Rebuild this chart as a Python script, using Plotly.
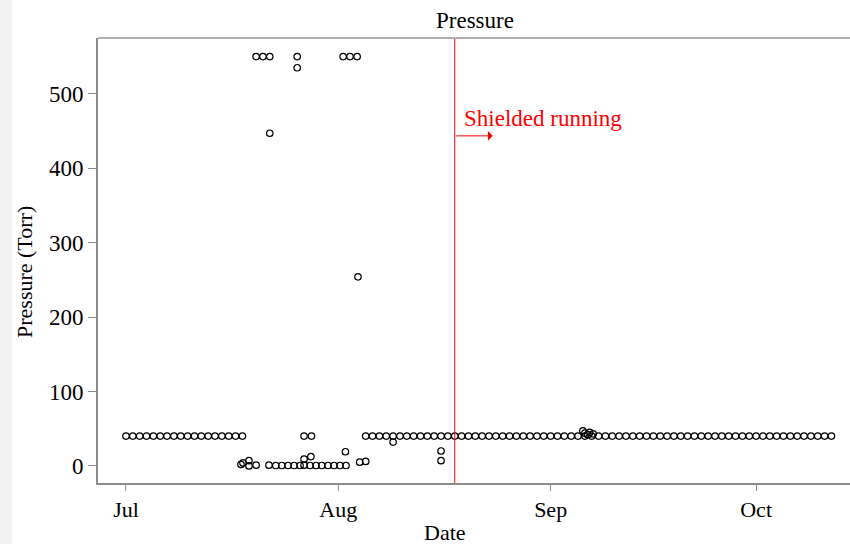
import plotly.graph_objects as go
import pandas as pd

# --- data ---
base_dates = (list(pd.date_range("2009-07-01", "2009-07-18", freq="D")) +
              list(pd.date_range("2009-08-05", "2009-10-12", freq="D")))
base_vals = [40] * len(base_dates)

extra_dates = [
    "2009-07-17 19:00", "2009-07-18 02:00", "2009-07-18 23:00", "2009-07-18 23:00", "2009-07-20 00:00",
    "2009-07-20 00:00", "2009-07-21 00:00", "2009-07-22 00:00", "2009-07-22 00:00",
    "2009-07-26 00:00", "2009-07-26 00:00",
    "2009-08-01 17:00", "2009-08-02 17:00", "2009-08-03 18:00", "2009-08-03 21:00",
    "2009-07-21 21:00", "2009-07-22 21:00", "2009-07-23 18:00", "2009-07-24 16:00",
    "2009-07-25 13:00", "2009-07-26 10:00", "2009-07-27 00:00", "2009-07-27 00:00",
    "2009-07-27 21:00", "2009-07-28 00:00", "2009-07-28 18:00", "2009-07-29 14:00",
    "2009-07-30 12:00", "2009-07-31 09:00", "2009-08-01 06:00", "2009-08-02 03:00",
    "2009-08-02 01:00",
    "2009-07-27 00:00", "2009-07-28 02:00",
    "2009-08-04 03:00", "2009-08-05 00:00",
    "2009-08-09 00:00", "2009-08-16 00:00", "2009-08-16 00:00",
    "2009-09-05 17:00", "2009-09-06 00:00", "2009-09-06 10:00", "2009-09-06 17:00", "2009-09-07 05:00",
]
extra_vals = [
    2, 4, 7, 0, 1,
    550, 550, 550, 447,
    550, 535,
    550, 550, 550, 254,
    1, 0.5, 0.5, 0.5,
    0.5, 0.5, 1, 9,
    0.5, 12.5, 0.5, 0.5,
    0.5, 0.5, 0.5, 0.5,
    19,
    40, 40,
    5, 6,
    32, 20, 7,
    47, 44, 42, 45, 43,
]

shield_date = "2009-08-18"
y_ticks = [0, 100, 200, 300, 400, 500]
x_ticks = ["2009-07-01", "2009-08-01", "2009-09-01", "2009-10-01"]
x_tick_labels = ["Jul", "Aug", "Sep", "Oct"]

dates = [pd.Timestamp(d) for d in base_dates] + [pd.Timestamp(d) for d in extra_dates]
vals = base_vals + extra_vals

FONT = "Liberation Serif, Times New Roman, serif"
AX = "#8c8c8c"

fig = go.Figure()
fig.add_trace(go.Scatter(
    x=dates, y=vals, mode="markers",
    marker=dict(symbol="circle-open", size=6.5, color="black", line=dict(width=1.2)),
    showlegend=False, hoverinfo="x+y",
))

W, H = 850, 544
L, R, T, B = 98, 0, 38, 61
pw, ph = W - L - R, H - T - B

fig.update_layout(
    width=W, height=H,
    margin=dict(l=L, r=R, t=T, b=B),
    paper_bgcolor="white", plot_bgcolor="white",
    font=dict(family=FONT, color="black", size=22),
    xaxis=dict(
        type="date",
        range=["2009-06-26 22:00", "2009-10-14 17:00"],
        tickmode="array", tickvals=x_ticks, ticktext=x_tick_labels,
        ticks="outside", ticklen=6, tickcolor=AX, tickwidth=1,
        showline=True, linecolor=AX, linewidth=2, mirror=False,
        showgrid=False, zeroline=False,
        tickfont=dict(size=22),
    ),
    yaxis=dict(
        range=[-23, 575],
        tickmode="array", tickvals=y_ticks,
        ticks="outside", ticklen=8, tickcolor=AX, tickwidth=1,
        showline=True, linecolor=AX, linewidth=2,
        showgrid=False, zeroline=False,
        tickfont=dict(size=23),
    ),
    shapes=[
        dict(type="line", xref="x", yref="paper", x0=shield_date, x1=shield_date,
             y0=0, y1=1, line=dict(color="red", width=1)),
        dict(type="line", xref="paper", yref="paper", x0=0, x1=1, y0=1, y1=1,
             line=dict(color="#b0b0b0", width=2)),
        dict(type="rect", xref="paper", yref="paper", x0=-L / pw, x1=(12 - L) / pw,
             y0=-B / ph, y1=1 + T / ph, fillcolor="#f2f2f2", line=dict(width=0), layer="below"),
    ],
    annotations=[
        dict(text="Pressure", xref="paper", yref="paper", x=(475 - L) / pw, y=1 + (T - 20) / ph,
             showarrow=False, font=dict(size=23), xanchor="center", yanchor="middle"),
        dict(text="Pressure (Torr)", xref="paper", yref="paper", x=(24 - L) / pw, y=(H - B - 272) / ph,
             showarrow=False, textangle=-90, font=dict(size=22), xanchor="center", yanchor="middle"),
        dict(text="Date", xref="paper", yref="paper", x=(445 - L) / pw, y=-(532 - T - ph) / ph,
             showarrow=False, font=dict(size=22), xanchor="center", yanchor="middle"),
        dict(text="Shielded running", xref="x", yref="y", x=shield_date, y=467,
             xshift=7, showarrow=False, font=dict(size=23, color="red"),
             xanchor="left", yanchor="middle"),
        dict(text="", xref="x", yref="y", x="2009-08-23 13:00", y=443.5,
             axref="x", ayref="y", ax=shield_date, ay=443.5,
             showarrow=True, arrowhead=1, arrowsize=1.6, arrowwidth=1, arrowcolor="red"),
    ],
)

fig.write_html("out.html", config={"displayModeBar": False},
               post_script="document.body.style.margin='0';document.body.style.overflow='hidden';")
